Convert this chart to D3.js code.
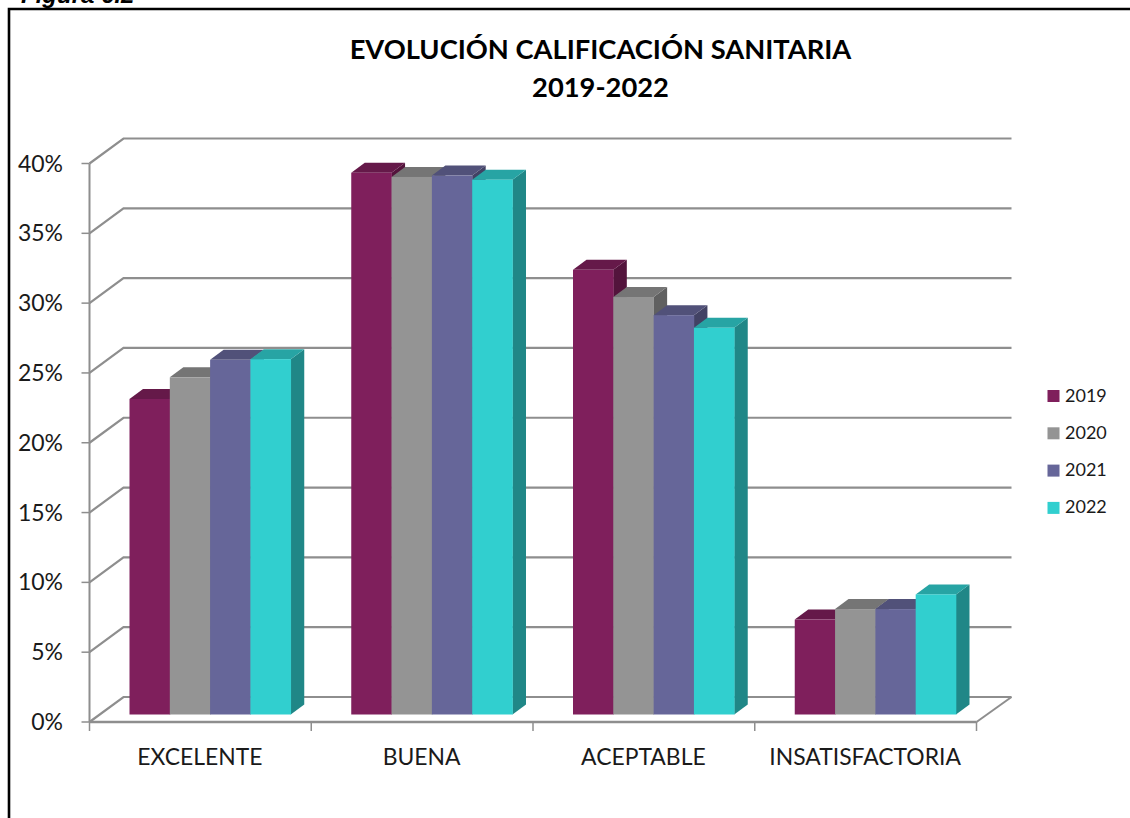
<!DOCTYPE html>
<html><head><meta charset="utf-8">
<style>html,body{margin:0;padding:0;background:#fff}svg{display:block}text{font-family:Lato,"Open Sans",sans-serif;fill:#1a1a1a}</style>
<script src="https://cdn.jsdelivr.net/npm/d3@7"></script></head><body>
<script>
const categories=["EXCELENTE","BUENA","ACEPTABLE","INSATISFACTORIA"];
const years=["2019","2020","2021","2022"];
const v2019=[22.6,38.8,31.85,6.8];
const v2020=[24.15,38.5,29.9,7.55];
const v2021=[25.4,38.6,28.6,7.55];
const v2022=[25.45,38.3,27.7,8.6];
const seriesValues=[v2019,v2020,v2021,v2022];
const colors=["#7f1f5c","#949494","#666699","#31cfcf"];
const yTicks=[0,5,10,15,20,25,30,35,40];
const titleLines=["EVOLUCIÓN CALIFICACIÓN SANITARIA","2019-2022"];

const W=1130,H=818;
const svg=d3.select("body").append("svg").attr("width",W).attr("height",H);
svg.append("text").attr("x",21).attr("y",3).attr("font-size",24).attr("font-weight",700).attr("font-style","italic")
  .style("font-family","Liberation Sans").style("fill","#000").text("Figura 6.2");
svg.append("path").attr("d",`M9 ${H}V9H${W}`).attr("fill","none").attr("stroke","#000").attr("stroke-width",2.6);

const wallDx=34,wallDy=-25, barDx=13.5,barDy=-10;
const y=d3.scaleLinear().domain([0,40]).range([722,163.5]);
const x=d3.scaleBand().domain(categories).range([89.5,976.5]);
const inner=d3.scaleBand().domain(years).range([40,x.bandwidth()-20.5]);
const floorOffset=-7.5;
const g="#8e8e8e";
const gl=svg.append("g");
yTicks.forEach(t=>{
  gl.append("path").attr("d",`M${x.range()[0]} ${y(t)}l${wallDx} ${wallDy}H${x.range()[1]+wallDx+1}`).attr("fill","none").attr("stroke",g).attr("stroke-width",2.2);
  gl.append("line").attr("x1",x.range()[0]-8).attr("x2",x.range()[0]).attr("y1",y(t)).attr("y2",y(t)).attr("stroke",g).attr("stroke-width",1.5);
});
gl.append("line").attr("x1",x.range()[0]).attr("x2",x.range()[0]).attr("y1",y(40)).attr("y2",y(0)).attr("stroke",g).attr("stroke-width",2);
gl.append("line").attr("x1",x.range()[0]).attr("x2",x.range()[1]).attr("y1",y(0)).attr("y2",y(0)).attr("stroke",g).attr("stroke-width",2.6);
gl.append("line").attr("x1",x.range()[1]).attr("x2",x.range()[1]+wallDx+1).attr("y1",y(0)).attr("y2",y(0)+wallDy).attr("stroke",g).attr("stroke-width",2);
[...categories.map(c=>x(c)),x.range()[1]].forEach(px=>gl.append("line").attr("x1",px).attr("x2",px).attr("y1",y(0)).attr("y2",y(0)+9).attr("stroke",g).attr("stroke-width",1.5));

const bars=svg.append("g");
categories.forEach((c,ci)=>{
  years.forEach((yr,si)=>{
    const v=seriesValues[si][ci],col=d3.color(colors[si]);
    const x0=x(c)+inner(yr),w=inner.bandwidth(),b=y(0)+floorOffset,t=y(v)+floorOffset;
    bars.append("path").attr("fill",col.darker(1.2)).attr("d",`M${x0+w} ${t}l${barDx} ${barDy}V${b+barDy}l${-barDx} ${-barDy}Z`);
    bars.append("path").attr("fill",col.darker(0.65)).attr("d",`M${x0} ${t}l${barDx} ${barDy}h${w}l${-barDx} ${-barDy}Z`);
    bars.append("rect").attr("x",x0).attr("y",t).attr("width",w+0.3).attr("height",b-t).attr("fill",colors[si]);
  });
});

svg.append("g").selectAll("text").data(yTicks).join("text").attr("x",63).attr("y",d=>y(d)+8).attr("text-anchor","end")
  .attr("font-size",23).text(d=>d+"%");
svg.append("g").selectAll("text").data(categories).join("text").attr("x",d=>x(d)+x.bandwidth()/2-0.5).attr("y",765).attr("text-anchor","middle")
  .attr("font-size",22.9).text(d=>d);
svg.append("g").selectAll("text").data(titleLines).join("text").attr("x",600.5).attr("y",(d,i)=>59+i*37.5).attr("text-anchor","middle")
  .attr("font-size",27.3).attr("font-weight",700).style("fill","#000").text(d=>d);

const leg=svg.append("g").selectAll("g").data(years).join("g").attr("transform",(d,i)=>`translate(1047.5,${390+i*37.3})`);
leg.append("rect").attr("width",12).attr("height",12).attr("fill",(d,i)=>colors[i]);
leg.append("text").attr("x",17.5).attr("y",11.5).attr("font-size",18).text(d=>d);
</script></body></html>
